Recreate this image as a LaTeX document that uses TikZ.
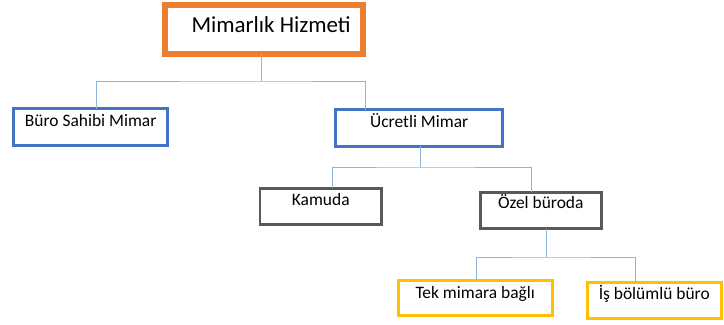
\documentclass[tikz,border=0pt]{standalone}
\usepackage{fontspec}
\setmainfont{Carlito}
\definecolor{orangeline}{HTML}{ED7D31}
\definecolor{blueline}{HTML}{4472C4}
\definecolor{grayline}{HTML}{595959}
\definecolor{yellowline}{HTML}{FFC000}
\definecolor{linkline}{HTML}{8FB4DE}
\tikzset{
  box/.style={draw, rectangle, anchor=north west, inner sep=0pt, outer sep=0pt,
    line width=3pt, font=\fontsize{17.5}{19}\selectfont},
  topbox/.style={box, draw=orangeline, line width=6pt, font=\fontsize{23}{25}\selectfont},
  bluebox/.style={box, draw=blueline},
  graybox/.style={box, draw=grayline},
  yellowbox/.style={box, draw=yellowline},
  link/.style={draw=linkline, line width=1pt}
}
\begin{document}
\begin{tikzpicture}[x=1bp,y=-1bp]
    \useasboundingbox (0,0) rectangle (724,324);
    % kutular
    \node[topbox, minimum width=199, text height=27.5, text depth=21.5] (hizmet) at (165,5) {\hspace*{14bp}Mimarlık Hizmeti};
    \node[bluebox, minimum width=155, text height=18, text depth=19] (buro) at (13.5,108.5) {Büro Sahibi Mimar};
    \node[bluebox, minimum width=168, text height=18, text depth=19] (ucretli) at (335.5,109.5) {Ücretli Mimar};
    \node[graybox, minimum width=122, text height=17.5, text depth=19.5] (kamu) at (260,188) {Kamuda};
    \node[graybox, minimum width=122, text height=16.5, text depth=20.5] (ozel) at (480,192) {Özel büroda};
    \node[yellowbox, minimum width=155, text height=19, text depth=17] (tek) at (398,280) {Tek mimara bağlı};
    \node[yellowbox, minimum width=135, text height=18, text depth=19] (isbolum) at (587,282) {İş bölümlü büro};
    % baglantilar
    \coordinate (bus1) at (261,81);
    \coordinate (bus2) at (420,167);
    \coordinate (bus3) at (546,257);
    \draw[link] (hizmet.south -| bus1) -- (bus1);
    \draw[link] ([xshift=6]buro.north) |- (bus1) -| ([xshift=-54]ucretli.north);
    \draw[link] (ucretli.south -| bus2) -- (bus2);
    \draw[link] ([xshift=12]kamu.north) |- (bus2) -| ([xshift=-9]ozel.north);
    \draw[link] (ozel.south -| bus3) -- (bus3);
    \draw[link] ([xshift=1.5]tek.north) |- (bus3) -| ([xshift=-18.5]isbolum.north);
\end{tikzpicture}
\end{document}
